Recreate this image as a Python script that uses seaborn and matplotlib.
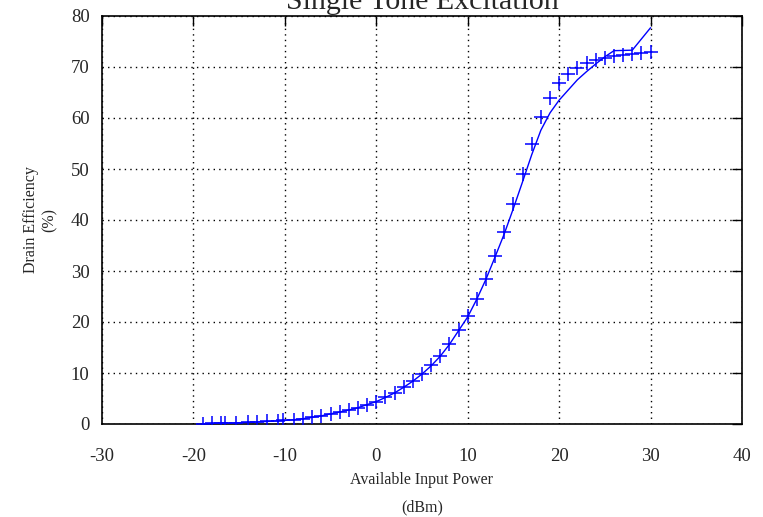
import matplotlib
matplotlib.use("Agg")
import matplotlib.pyplot as plt
import seaborn as sns
import pandas as pd

# Measured drain efficiency (markers)
meas_pin = [-19, -18, -17, -16.5, -15.3, -14, -13, -12, -10.7, -10.2, -9, -8, -7,
            -6, -5, -4, -3, -2, -1, 0, 1, 2, 3, 4, 5, 6, 7, 8, 9, 10, 11, 12, 13,
            14, 15, 16, 17, 18, 19, 20, 21, 22, 23, 24, 25, 26, 27, 28, 29, 30]
meas_eff = [0.05, 0.1, 0.15, 0.2, 0.25, 0.3, 0.4, 0.5, 0.6, 0.7, 0.85, 1.05, 1.3,
            1.6, 2.0, 2.35, 2.75, 3.2, 3.8, 4.4, 5.2, 6.1, 7.3, 8.4, 9.8, 11.5, 13.3,
            15.7, 18.4, 21.2, 24.6, 28.4, 33.0, 37.7, 43.1, 49.0, 54.9, 60.1, 64.0,
            66.8, 68.7, 69.8, 70.8, 71.4, 71.8, 72.2, 72.4, 72.5, 72.7, 72.9]

# Simulated drain efficiency (solid line)
sim_pin = [-19, -18, -17, -16, -15, -14, -13, -12, -11, -10, -9, -8, -7, -6, -5,
           -4, -3, -2, -1, 0, 1, 2, 3, 4, 5, 6, 7, 8, 9, 10, 11, 12, 13, 14, 15,
           16, 17, 18, 19, 20, 21, 22, 23, 24, 25, 26, 27, 28, 29, 30]
sim_eff = [0.05, 0.1, 0.15, 0.2, 0.25, 0.3, 0.4, 0.5, 0.6, 0.7, 0.85, 1.05, 1.3,
           1.6, 2.0, 2.35, 2.75, 3.2, 3.8, 4.4, 5.2, 6.1, 7.2, 8.4, 9.8, 11.4, 13.3,
           15.6, 18.3, 21.0, 24.5, 28.4, 32.8, 37.3, 42.3, 47.5, 52.8, 57.6, 61.0,
           63.5, 65.5, 67.5, 69.1, 70.6, 72.0, 73.2, 73.25, 73.3, 75.5, 77.7]

x_ticks = [-30, -20, -10, 0, 10, 20, 30, 40]
y_ticks = [0, 10, 20, 30, 40, 50, 60, 70, 80]

meas = pd.DataFrame({"pin": meas_pin, "eff": meas_eff})
sim = pd.DataFrame({"pin": sim_pin, "eff": sim_eff})

sns.set_style("white")
plt.rcParams["font.family"] = ["Liberation Serif", "DejaVu Serif"]

fig = plt.figure(figsize=(7.63, 5.17), dpi=100)
ax = fig.add_axes([102 / 763, 93 / 517, 640 / 763, 408 / 517])

sns.lineplot(data=sim, x="pin", y="eff", ax=ax, color="#0000ff", linewidth=1.0,
             estimator=None, sort=False, zorder=3)
sns.scatterplot(data=meas, x="pin", y="eff", ax=ax, color="#0000ff", marker="+",
                s=90, linewidth=1.1, zorder=4)

ax.set_xlim(-30, 40)
ax.set_ylim(0, 80)
ax.set_xticks(x_ticks)
ax.set_yticks(y_ticks)
ax.set_xticklabels([str(v) for v in x_ticks], fontsize=13.5)
ax.set_yticklabels([str(v) for v in y_ticks], fontsize=13.5)
ax.tick_params(axis="both", direction="in", length=7, width=1.0, color="black",
               top=True, right=True, pad=9)
ax.tick_params(axis="x", pad=17)

ax.grid(True, color="black", linestyle=(0, (1, 3)), linewidth=1.0)
ax.set_axisbelow(True)
for side in ax.spines.values():
    side.set_visible(True)
    side.set_color("black")
    side.set_linewidth(1.2)

ax.set_xlabel("")
ax.set_ylabel("")

fig.text(422 / 763, 1 - 9 / 517, "Single Tone Excitation", ha="center",
         va="baseline", fontsize=21.5)
fig.text(31 / 763, 1 - 220 / 517, "Drain Efficiency", rotation=90,
         ha="center", va="center", fontsize=11.5)
fig.text(50 / 763, 1 - 220 / 517, "(%)", rotation=90,
         ha="center", va="center", fontsize=11.5)
fig.text(422 / 763, 1 - 480 / 517, "Available Input Power", ha="center",
         va="center", fontsize=11.5)
fig.text(422 / 763, 1 - 507 / 517, "(dBm)", ha="center", va="center",
         fontsize=11.5)

fig.savefig("out.png", dpi=100)
